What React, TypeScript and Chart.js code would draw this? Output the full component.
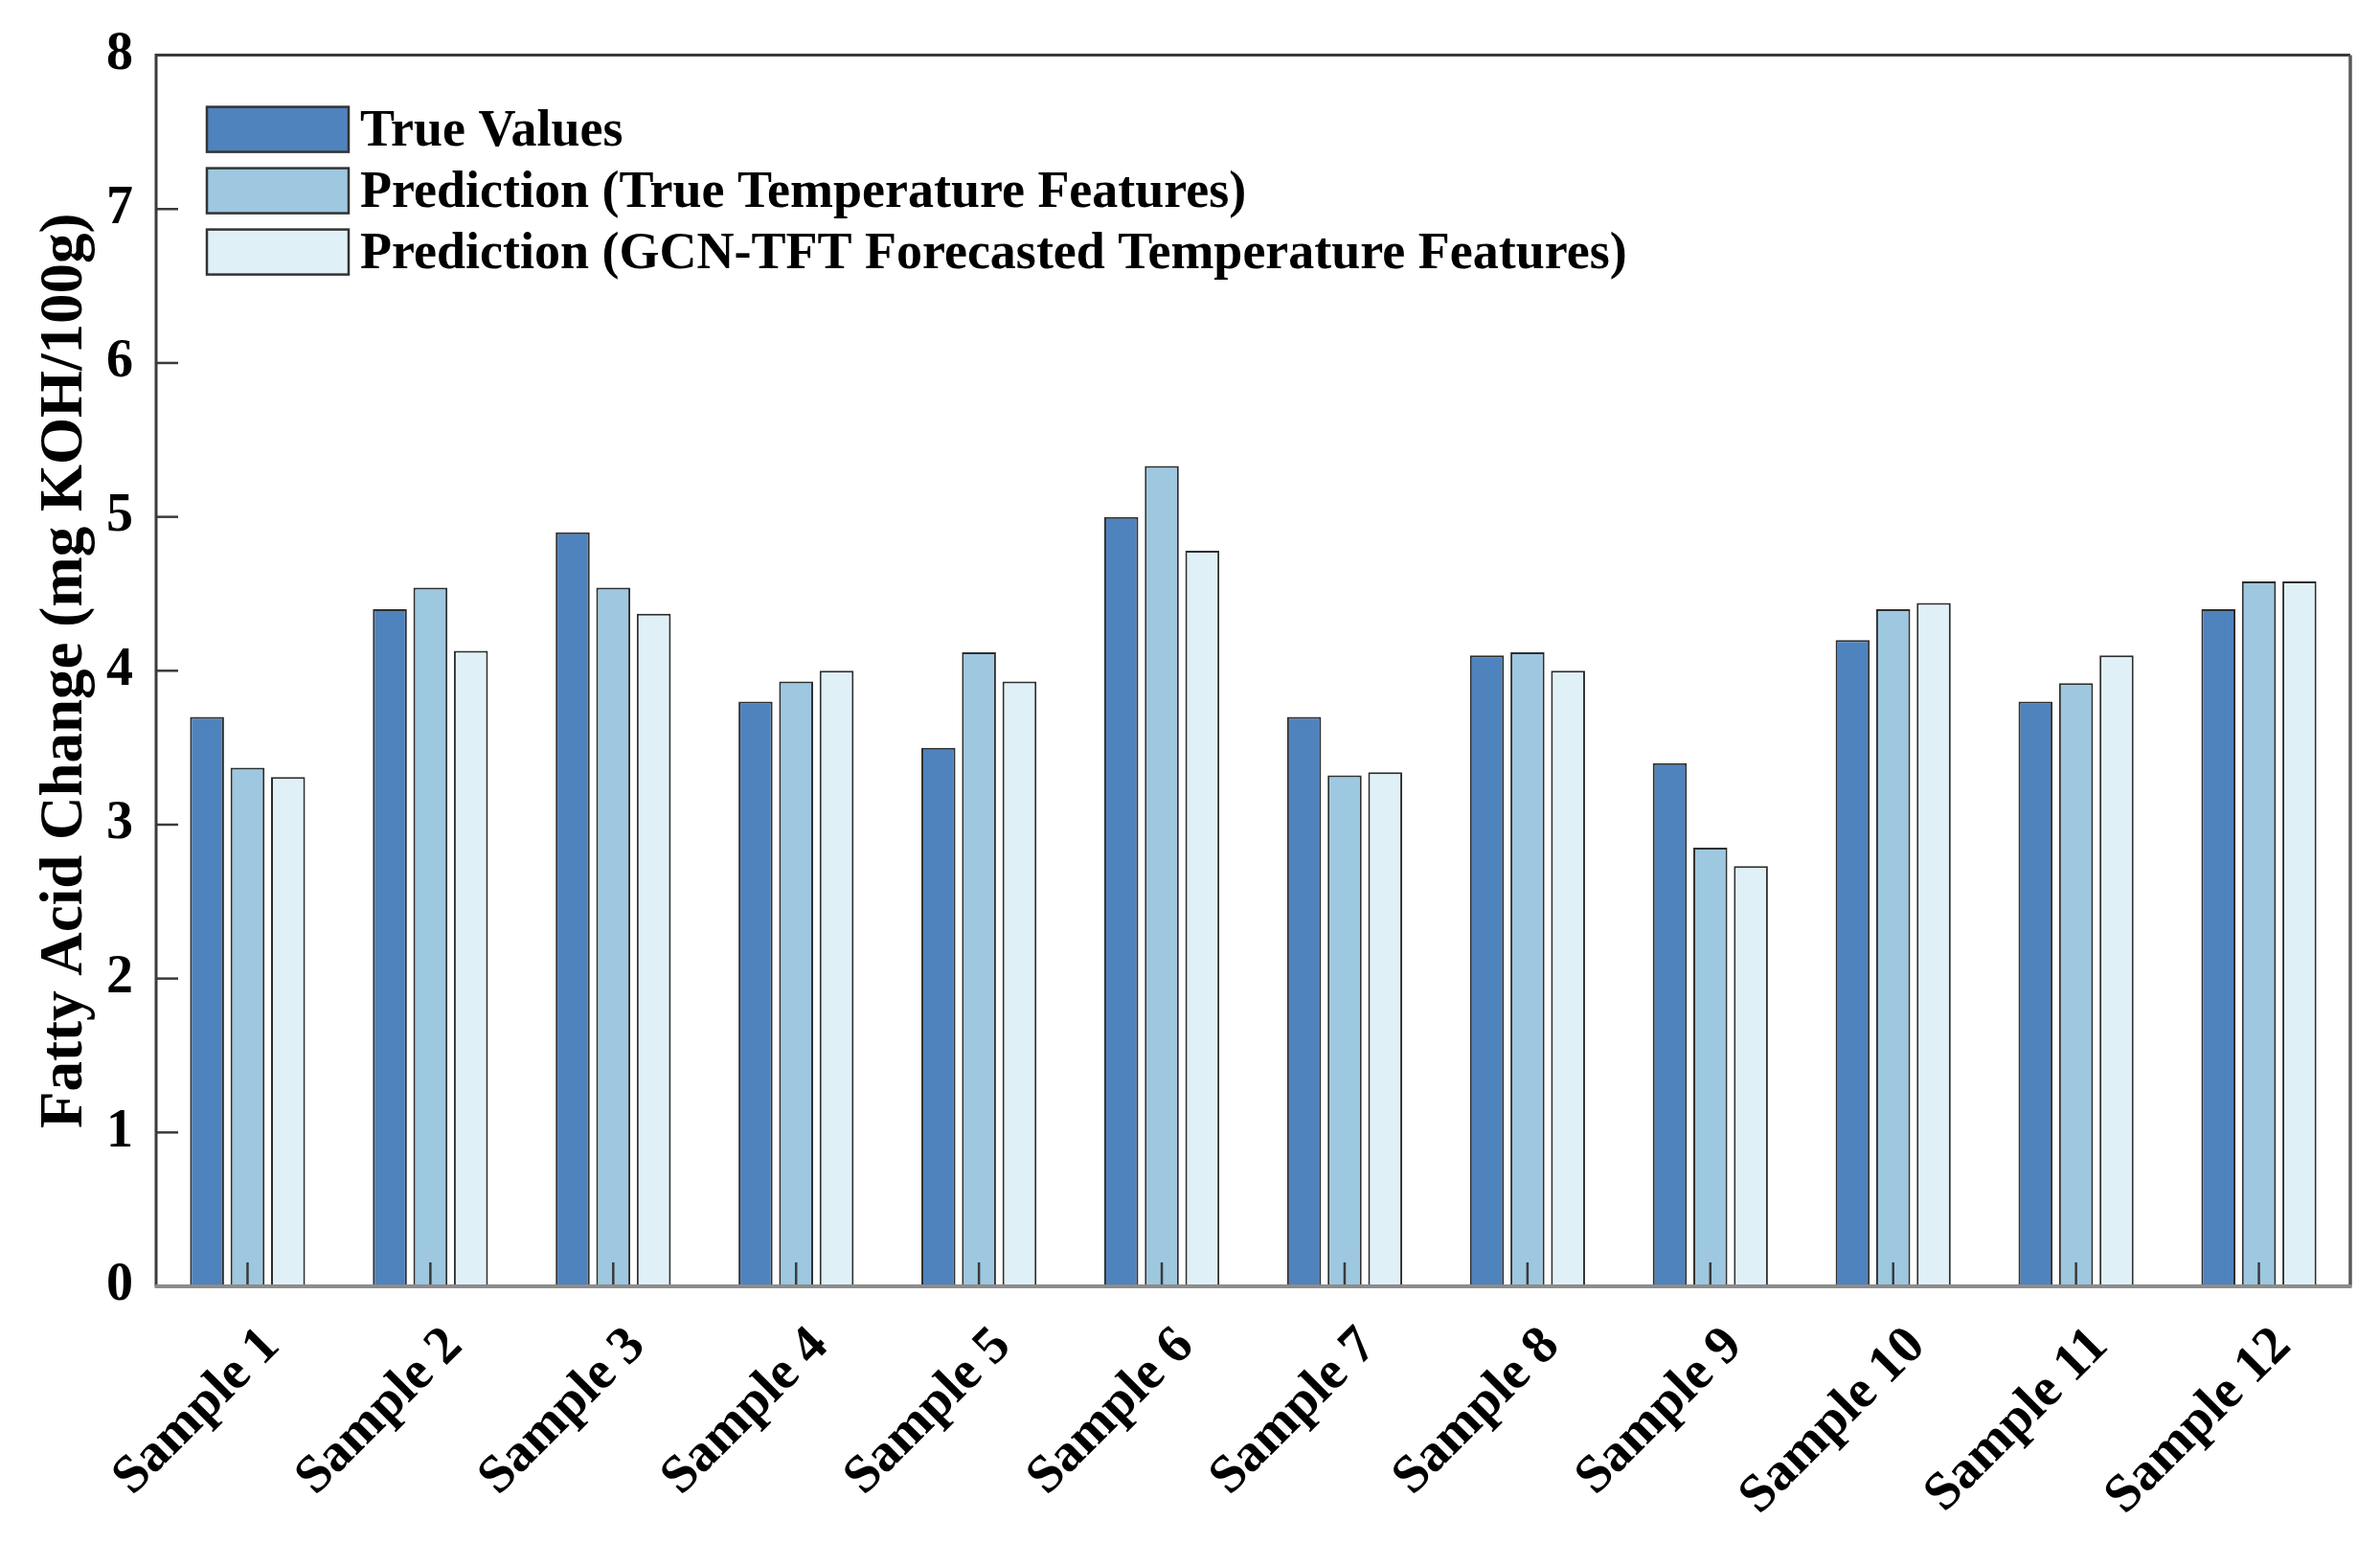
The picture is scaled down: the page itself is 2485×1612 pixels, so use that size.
import React, { useEffect, useRef } from "react";
import { Chart, registerables } from "chart.js";

Chart.register(...registerables);

const categories = [
  "Sample 1", "Sample 2", "Sample 3", "Sample 4", "Sample 5", "Sample 6",
  "Sample 7", "Sample 8", "Sample 9", "Sample 10", "Sample 11", "Sample 12",
];
const trueValues = [3.7, 4.4, 4.9, 3.8, 3.5, 5.0, 3.7, 4.1, 3.4, 4.2, 3.8, 4.4];
const predTrueTemp = [3.37, 4.54, 4.54, 3.93, 4.12, 5.33, 3.32, 4.12, 2.85, 4.4, 3.92, 4.58];
const predForecast = [3.31, 4.13, 4.37, 4.0, 3.93, 4.78, 3.34, 4.0, 2.73, 4.44, 4.1, 4.58];
const seriesLabels = [
  "True Values",
  "Prediction (True Temperature Features)",
  "Prediction (GCN-TFT Forecasted Temperature Features)",
];
const seriesColors = ["#4f83bd", "#9dc8e0", "#dff1f7"];
const yTitle = "Fatty Acid Change (mg KOH/100g)";

const FONT = "'Liberation Serif', 'Times New Roman', serif";

const frameAndTicks = {
  id: "frameAndTicks",
  afterDatasetsDraw(chart: any) {
    const { ctx, chartArea } = chart;
    const { left, right, top, bottom } = chartArea;
    const xs = chart.scales.x;
    const ys = chart.scales.y;
    ctx.save();
    ctx.strokeStyle = "#3a3a3a";
    ctx.lineWidth = 2.5;
    ys.ticks.forEach((t: any) => {
      const y = ys.getPixelForValue(t.value);
      ctx.beginPath();
      ctx.moveTo(left, y);
      ctx.lineTo(left + 23, y);
      ctx.stroke();
    });
    for (let i = 0; i < categories.length; i++) {
      const x = xs.getPixelForValue(i);
      ctx.beginPath();
      ctx.moveTo(x, bottom);
      ctx.lineTo(x, bottom - 25);
      ctx.stroke();
    }
    ctx.lineWidth = 3;
    ctx.strokeStyle = "#3a3a3a";
    ctx.beginPath();
    ctx.moveTo(left, bottom);
    ctx.lineTo(left, top);
    ctx.lineTo(right, top);
    ctx.stroke();
    ctx.strokeStyle = "#5a5a5a";
    ctx.lineWidth = 3.5;
    ctx.beginPath();
    ctx.moveTo(right, top);
    ctx.lineTo(right, bottom);
    ctx.stroke();
    ctx.strokeStyle = "#8c8c8c";
    ctx.lineWidth = 4;
    ctx.beginPath();
    ctx.moveTo(left - 1.5, bottom);
    ctx.lineTo(right + 1.5, bottom);
    ctx.stroke();
    ctx.restore();
  },
};

const insideLegend = {
  id: "insideLegend",
  afterDraw(chart: any) {
    const { ctx, chartArea } = chart;
    const bx = chartArea.left + 53;
    const by = chartArea.top + 54;
    const bw = 148;
    const bh = 47;
    const pitch = 64;
    ctx.save();
    chart.data.datasets.forEach((ds: any, i: number) => {
      const y = by + i * pitch;
      ctx.fillStyle = ds.backgroundColor;
      ctx.fillRect(bx, y, bw, bh);
      ctx.strokeStyle = "#333";
      ctx.lineWidth = 2.5;
      ctx.strokeRect(bx, y, bw, bh);
      ctx.fillStyle = "#000";
      ctx.font = `bold 54px ${FONT}`;
      ctx.textBaseline = "middle";
      ctx.textAlign = "left";
      ctx.fillText(ds.label, bx + bw + 12, y + bh / 2 + 3);
    });
    ctx.restore();
  },
};

export default function App() {
  const ref = useRef<HTMLCanvasElement | null>(null);
  useEffect(() => {
    if (!ref.current) return;
    const chart = new Chart(ref.current, {
      type: "bar",
      data: {
        labels: categories,
        datasets: [trueValues, predTrueTemp, predForecast].map((d, i) => ({
          label: seriesLabels[i],
          data: d,
          backgroundColor: seriesColors[i],
          borderColor: "#2e2e2e",
          borderWidth: 2,
          categoryPercentage: 0.665,
          barPercentage: 0.84,
        })),
      },
      options: {
        animation: false,
        responsive: true,
        maintainAspectRatio: false,
        layout: { padding: { left: 0, top: 48, right: 31, bottom: 0 } },
        plugins: {
          legend: { display: false },
          tooltip: { enabled: false },
        },
        scales: {
          x: {
            grid: { display: false, drawTicks: false },
            border: { display: false },
            ticks: {
              autoSkip: false,
              maxRotation: 45,
              minRotation: 45,
              padding: 30,
              labelOffset: 25,
              color: "#000",
              font: { family: FONT, size: 56, weight: "bold" },
            },
            afterFit: (s: any) => {
              s.height = 269;
            },
          },
          y: {
            min: 0,
            max: 8,
            grid: { display: false, drawTicks: false },
            border: { display: false },
            ticks: {
              stepSize: 1,
              padding: 24,
              color: "#000",
              font: { family: FONT, size: 56, weight: "bold" },
            },
            title: {
              display: true,
              text: yTitle,
              color: "#000",
              padding: { top: 31, bottom: 0 },
              font: { family: FONT, size: 63, weight: "bold" },
            },
            afterFit: (s: any) => {
              s.width = 163;
            },
          },
        },
      },
      plugins: [frameAndTicks, insideLegend],
    });
    return () => chart.destroy();
  }, []);
  return (
    <div style={{ position: "fixed", left: 0, top: 0, width: "2485px", height: "1612px", background: "#fff" }}>
      <canvas ref={ref} />
    </div>
  );
}
